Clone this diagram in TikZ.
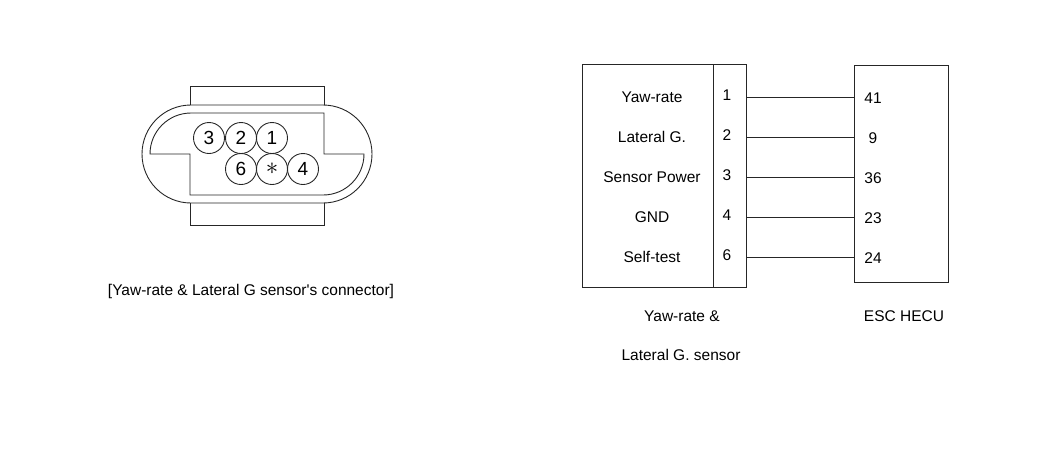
\documentclass[tikz,border=0pt]{standalone}
\usepackage{fontspec}
\setmainfont{Liberation Sans}
\usetikzlibrary{positioning}

\newcommand*\rowgap{40}
\tikzset{
    part/.style={draw=black!85, line width=0.9pt},
    box/.style={
        part,
        rectangle,
        anchor=north west,
        inner sep=0pt
    },
    pin/.style={
        part,
        circle,
        minimum size=31pt,
        inner sep=0pt,
        font=\fontsize{19}{19}\selectfont
    },
    txt/.style={font=\fontsize{15.5}{16}\selectfont, inner sep=0pt}
}

\begin{document}
\begin{tikzpicture}[x=1pt,y=-1pt]
    \useasboundingbox (0,0) rectangle (1050,451);

    % Connector housing: outer oval with the two latch blocks.
    \draw[part] (190,105) -- (190,86) -- (324,86) -- (324,105);
    \draw[part] (190,203) -- (190,225) -- (324,225) -- (324,203);
    \draw[part] (191,105) -- (323,105) arc[start angle=-90,end angle=90,radius=49]
        -- (191,203) arc[start angle=90,end angle=270,radius=49] -- cycle;

    % Inner cavity.
    \draw[part] (191,113) -- (324,113) -- (324,154) -- (364,154)
        arc[start angle=0,end angle=90,radius=41] -- (190,195) -- (190,154)
        -- (150,154) arc[start angle=180,end angle=270,radius=41] -- cycle;

    % Pins.
    \foreach \name/\x/\y/\lbl in {3/209/138/3, 2/241/138/2, 1/272/138/1,
                                 6/241/169/6, x/272/169/{\fontsize{30}{30}\selectfont$\ast$}, 4/303/169/4}
        \node[pin] (pin\name) at (\x,\y) {\lbl};

    \node[txt] (caption) at (251,291) {[Yaw-rate \& Lateral G sensor\textquotesingle s connector]};

    % Sensor box with its pin column.
    \node[box, minimum width=164pt, minimum height=223pt] (sensor) at (582,64) {};
    \draw[part] (713,64) -- (713,287);

    % ESC HECU box.
    \node[box, minimum width=94pt, minimum height=217pt] (hecu) at (854,65) {};

    % Rows: signal name, sensor pin, HECU pin.
    \foreach \i/\sig/\pn/\hn in {0/Yaw-rate/1/41, 1/Lateral G./2/9, 2/Sensor Power/3/36,
                                 3/GND/4/23, 4/Self-test/6/24}
    {
        \node[txt] (sig\pn) at (652,97+\rowgap*\i) {\sig};
        \node[txt] (p\pn) at (727,95+\rowgap*\i) {\pn};
        \node[txt] (h\pn) at (873,98+\rowgap*\i) {\hn};
        \draw[part] (sig\pn -| sensor.east) -- (sig\pn -| hecu.west);
    }

    % Names under the boxes.
    \node[txt] (sensorname) at (682,316) {Yaw-rate \&};
    \node[txt] (sensorname2) at (681,355) {Lateral G. sensor};
    \node[txt] (hecuname) at (904,316) {ESC HECU};

\end{tikzpicture}
\end{document}
